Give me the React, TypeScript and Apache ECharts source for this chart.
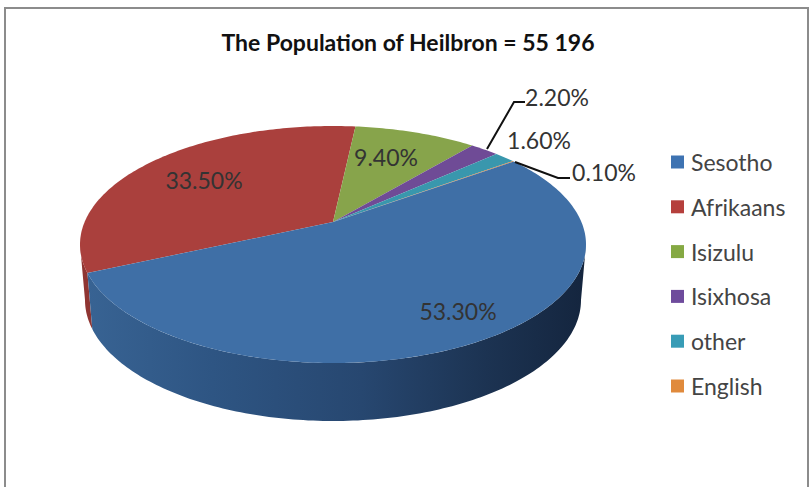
import React, { useEffect, useRef } from "react";
import * as echarts from "echarts";

const titleText = "The Population of Heilbron = 55 196";
const categories = ["Sesotho", "Afrikaans", "Isizulu", "Isixhosa", "other", "English"];
const shares = [53.3, 33.5, 9.4, 2.2, 1.6, 0.1];
const topColors = ["#3f6fa6", "#aa403d", "#87a44b", "#6f4b96", "#3997ad", "#db8339"];
const legendColors = ["#3e73b2", "#b53f3c", "#85a943", "#6e4b9c", "#389cb6", "#e08a3c"];
const labelAnchors: number[][] = [
  [458, 311],
  [204, 180],
  [386, 157],
  [557, 97],
  [539, 140],
  [604, 172],
];
const leaders: Record<number, number[][]> = {
  3: [[487, 149], [514, 102], [525, 102]],
  5: [[515, 162], [558, 178], [570, 178]],
};

const FONT = "Lato, 'Open Sans', sans-serif";
const CX = 333, CY = 244.5, RX = 253, RY = 118.5;
const BCX = 333, BCY = 300, BRX = 248, BRY = 121;
const PERSP = 0.19;
const START = (54 * Math.PI) / 180;

const total = shares.reduce((a, b) => a + b, 0);
const cumul: number[] = [START];
shares.forEach((v, i) => cumul.push(cumul[i] + (v / total) * Math.PI * 2));

function warp(t: number) {
  const q = Math.sqrt(1 - PERSP * PERSP);
  const s = Math.sin(t), c = Math.cos(t);
  const d = 1 + PERSP * c;
  return [(s * q) / d, (c + PERSP) / d];
}
function top(t: number) {
  const [a, b] = warp(t);
  return [CX + RX * a, CY - RY * b];
}
function bottom(t: number) {
  const [a, b] = warp(t);
  return [BCX + BRX * a, BCY - BRY * b];
}
function arc(f: (t: number) => number[], a: number, b: number) {
  const n = Math.max(4, Math.ceil(Math.abs(b - a) * 60));
  const out: number[][] = [];
  for (let i = 0; i <= n; i++) out.push(f(a + ((b - a) * i) / n));
  return out;
}

const silhouetteRight = Math.acos(-PERSP);
const silhouetteLeft = Math.PI * 2 - silhouetteRight;

function sideRange(i: number): number[] | null {
  const a = Math.max(cumul[i], silhouetteRight);
  const b = Math.min(cumul[i + 1], silhouetteLeft);
  return b > a ? [a, b] : null;
}

const sideFill = [
  new echarts.graphic.LinearGradient(0, 0, 1, 0, [
    { offset: 0, color: "#386393" },
    { offset: 0.25, color: "#2e5583" },
    { offset: 0.55, color: "#274770" },
    { offset: 0.8, color: "#1c3352" },
    { offset: 1, color: "#14253e" },
  ]),
  "#8f3532",
];

function App() {
  const ref = useRef<HTMLDivElement>(null);
  useEffect(() => {
    const chart = echarts.init(ref.current!, null, { renderer: "svg" });
    const order = [1, 2, 3, 4, 5, 0];
    chart.setOption({
      animation: false,
      backgroundColor: "#ffffff",
      color: legendColors,
      title: {
        text: titleText,
        left: 403,
        top: 25,
        textAlign: "center",
        textStyle: { fontFamily: FONT, fontSize: 23, fontWeight: "bold", color: "#111111" },
      },
      legend: {
        orient: "vertical",
        left: 671,
        top: 150.5,
        padding: 0,
        itemWidth: 13,
        itemHeight: 13,
        itemGap: 21.8,
        icon: "rect",
        selectedMode: false,
        data: categories,
        textStyle: { fontFamily: FONT, fontSize: 23, color: "#444444", padding: [0, 0, 0, 2] },
      },
      graphic: [
        {
          type: "rect",
          shape: { x: 5, y: 8, width: 803, height: 500 },
          style: { fill: "none", stroke: "#8c8c8c", lineWidth: 2 },
          silent: true,
        },
      ],
      series: order.map((i) => ({
        type: "custom",
        name: categories[i],
        coordinateSystem: "none",
        silent: true,
        data: [[shares[i]]],
        itemStyle: { color: legendColors[i] },
        renderItem: () => {
          const children: any[] = [];
          const range = sideRange(i);
          if (range) {
            const pts = arc(top, range[0], range[1]).concat(arc(bottom, range[0], range[1]).reverse());
            children.push({
              type: "polygon",
              shape: { points: pts },
              style: { fill: sideFill[i] || topColors[i] },
            });
          }
          const apex = [CX, CY - RY * PERSP];
          children.push({
            type: "polygon",
            shape: { points: [apex, ...arc(top, cumul[i], cumul[i + 1])] },
            style: { fill: topColors[i] },
          });
          return { type: "group", children };
        },
        z: 2,
      })).concat([
        {
          type: "custom",
          name: "__labels",
          coordinateSystem: "none",
          silent: true,
          data: shares.map((v) => [v]),
          z: 5,
          renderItem: (_: any, api: any) => {
            const i = _.dataIndex;
            const children: any[] = [];
            if (leaders[i]) {
              children.push({
                type: "polyline",
                shape: { points: leaders[i] },
                style: { fill: "none", stroke: "#111111", lineWidth: 2 },
              });
            }
            children.push({
              type: "text",
              style: {
                text: `${api.value(0).toFixed(2)}%`,
                x: labelAnchors[i][0],
                y: labelAnchors[i][1],
                align: "center",
                verticalAlign: "middle",
                font: `23px ${FONT}`,
                fill: "#333333",
              },
            });
            return { type: "group", children };
          },
        } as any,
      ]),
    } as any);
    return () => chart.dispose();
  }, []);
  return <div ref={ref} style={{ position: "fixed", left: 0, top: 0, width: 809, height: 487 }} />;
}

export default App;
